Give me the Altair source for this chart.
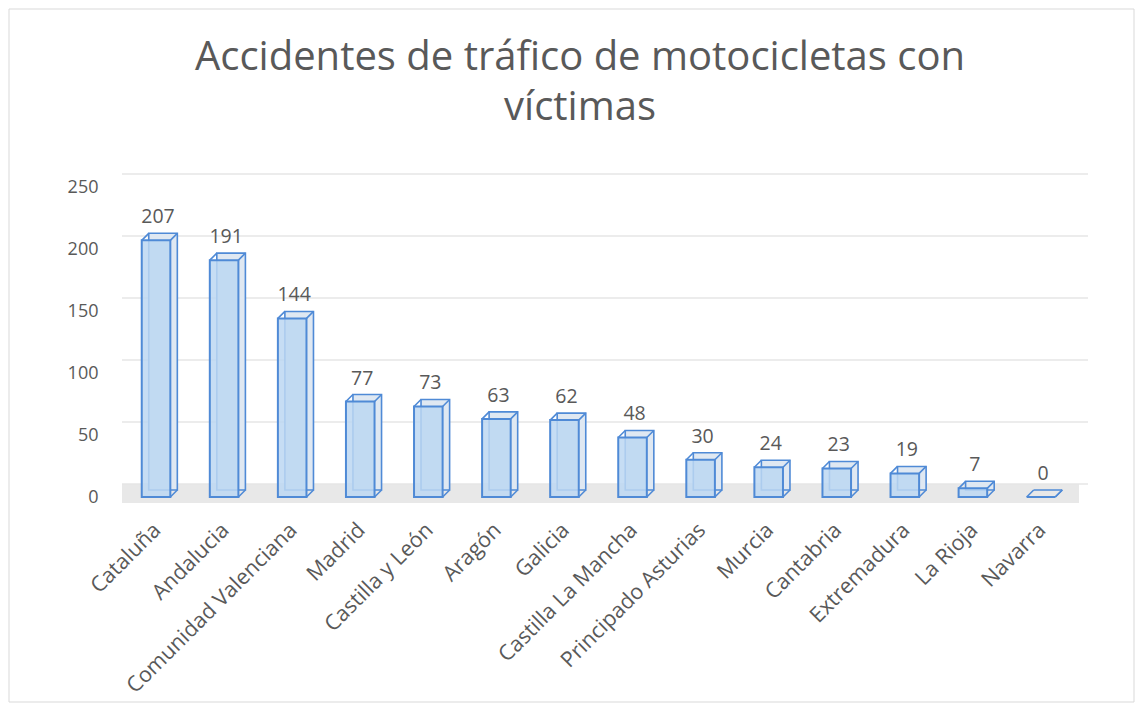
import altair as alt
import pandas as pd

regions = ["Cataluña", "Andalucia", "Comunidad Valenciana", "Madrid", "Castilla y León",
           "Aragón", "Galicia", "Castilla La Mancha", "Principado Asturias", "Murcia",
           "Cantabria", "Extremadura", "La Rioja", "Navarra"]
values = [207, 191, 144, 77, 73, 63, 62, 48, 30, 24, 23, 19, 7, 0]
grid_values = [0, 50, 100, 150, 200, 250]
title_lines = ["Accidentes de tráfico de motocicletas con", "víctimas"]

df = pd.DataFrame({"region": regions, "value": values})
grid_df = pd.DataFrame({"g": grid_values})

FONT = "Open Sans"
GREY = "#595959"
STROKE = "#4f8ad6"
D = 7  # depth of the pseudo-3D boxes (px)

xscale = alt.Scale(paddingInner=0.58, paddingOuter=0.29)
yscale = alt.Scale(domain=[0, 250])
xaxis = alt.Axis(labelAngle=-45, labelFontSize=21.5, labelColor=GREY, labelFont=FONT,
                 domain=False, ticks=False, labelPadding=22, labelOffset=-6, labelLimit=400)

x = alt.X("region:N", sort=regions, title=None, scale=xscale, axis=xaxis)
y = alt.Y("value:Q", title=None, scale=yscale,
          axis=alt.Axis(values=grid_values, grid=False, domain=False, ticks=False,
                        labelFontSize=18, labelColor=GREY, labelFont=FONT, labelPadding=24))

border = alt.Chart(pd.DataFrame({"g": [0]})).mark_rect(
    fill=None, fillOpacity=0, stroke="#d9d9d9", strokeWidth=1
).encode(x=alt.value(-113), x2=alt.value(1012), y=alt.value(-178), y2=alt.value(515))

title1 = alt.Chart(pd.DataFrame({"t": [title_lines[0]]})).mark_text(
    font=FONT, fontSize=40, color=GREY, align="center", baseline="middle"
).encode(x=alt.value(458), y=alt.value(-129), text="t:N")
title2 = alt.Chart(pd.DataFrame({"t": [title_lines[1]]})).mark_text(
    font=FONT, fontSize=40, color=GREY, align="center", baseline="middle"
).encode(x=alt.value(458), y=alt.value(-79), text="t:N")

floor = alt.Chart(pd.DataFrame({"g": [0]})).mark_rule(
    color="#e8e8e8", strokeWidth=19, yOffset=-3.5, xOffset=4
).encode(y=alt.Y("g:Q", scale=yscale))

grid = alt.Chart(grid_df).mark_rule(color="#e6e6e6", strokeWidth=1.5, yOffset=-13, xOffset=13).encode(
    y=alt.Y("g:Q", scale=yscale)
)

back = alt.Chart(df).mark_bar(
    fill="#dfe8f2", stroke=STROKE, strokeWidth=1.6, xOffset=D, yOffset=-D
).encode(x=x, y=y)

front = alt.Chart(df).mark_bar(
    fill="#bcd7f2", fillOpacity=0.85, stroke=STROKE, strokeWidth=2
).encode(x=x, y=y)


def edge(band_pos, use_zero=False):
    yy = alt.Y("zero:Q", scale=yscale) if use_zero else alt.Y("value:Q", scale=yscale)
    yy2 = alt.Y2("zero:Q") if use_zero else alt.Y2("value:Q")
    return alt.Chart(df).transform_calculate(zero="0").mark_rule(
        stroke=STROKE, strokeWidth=1.6, x2Offset=D, y2Offset=-D
    ).encode(
        x=alt.X("region:N", sort=regions, scale=xscale, bandPosition=band_pos,
                title=None, axis=xaxis),
        x2=alt.X2("region:N", bandPosition=band_pos),
        y=yy, y2=yy2,
    )


edges = [edge(0), edge(1), edge(1, use_zero=True)]

labels = alt.Chart(df).mark_text(
    font=FONT, fontSize=19.5, color=GREY, dy=-23, dx=2
).encode(x=x, y=y, text="value:Q")

chart = alt.layer(border, title1, title2, floor, grid, back, front, *edges, labels).properties(
    width=953, height=310, background="white",
    autosize=alt.AutoSizeParams(type="none"),
    padding={"left": 114, "top": 179, "right": 60, "bottom": 206}
).configure_view(stroke="transparent")

chart.save("out.html", embed_options={"renderer": "svg", "actions": False})
